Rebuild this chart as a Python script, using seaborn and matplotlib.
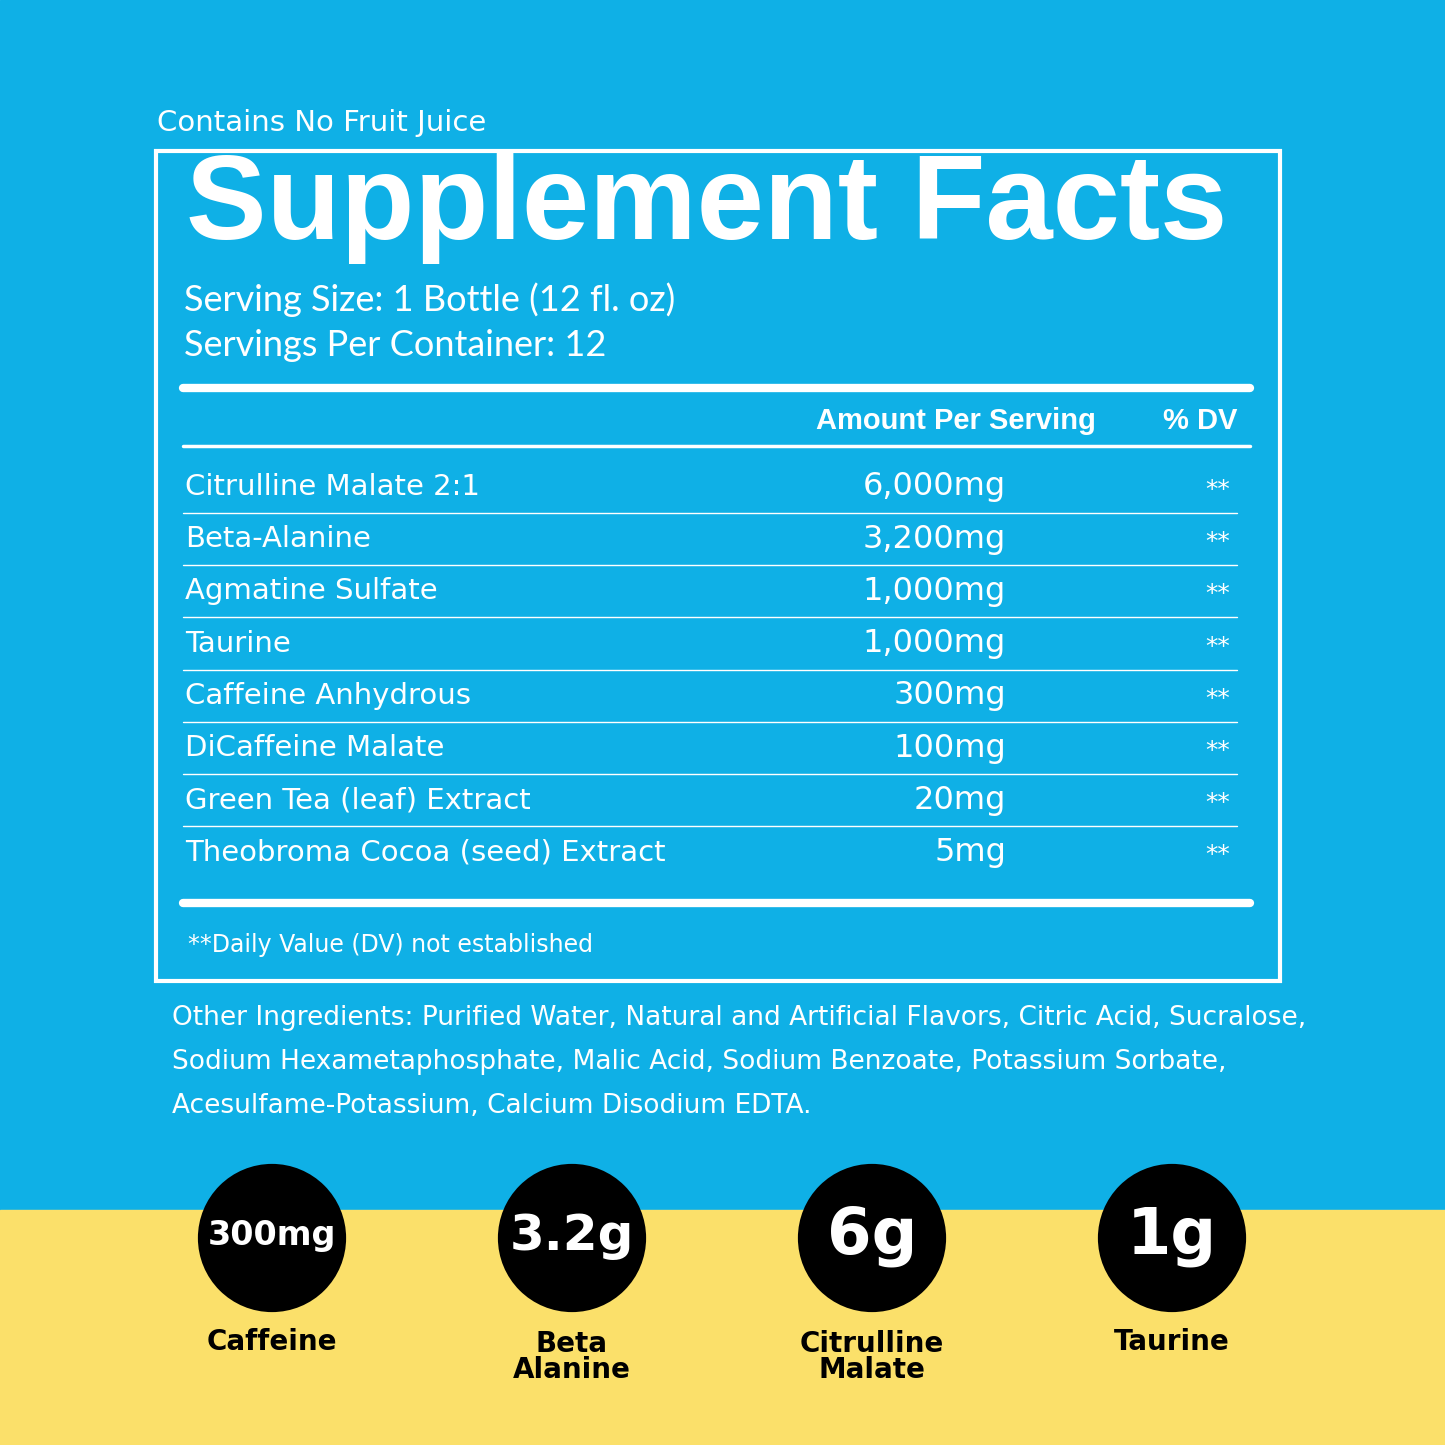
import matplotlib
matplotlib.use("Agg")
import matplotlib.pyplot as plt
import seaborn as sns
import pandas as pd

sns.set_theme(style="white")
plt.rcParams['font.family'] = ['Liberation Sans Narrow', 'DejaVu Sans']

ingredients = ["Citrulline Malate 2:1", "Beta-Alanine", "Agmatine Sulfate", "Taurine",
               "Caffeine Anhydrous", "DiCaffeine Malate", "Green Tea (leaf) Extract",
               "Theobroma Cocoa (seed) Extract"]
amounts = ["6,000mg", "3,200mg", "1,000mg", "1,000mg", "300mg", "100mg", "20mg", "5mg"]
dv = ["**"] * 8
other = ["Other Ingredients: Purified Water, Natural and Artificial Flavors, Citric Acid, Sucralose,",
         "Sodium Hexametaphosphate, Malic Acid, Sodium Benzoate, Potassium Sorbate,",
         "Acesulfame-Potassium, Calcium Disodium EDTA."]
badge_values = ["300mg", "3.2g", "6g", "1g"]
badge_labels = ["Caffeine", "Beta\nAlanine", "Citrulline\nMalate", "Taurine"]

BLUE = "#0FB0E6"
YEL = "#FBE06A"
W = "white"

fig = plt.figure(figsize=(14.45, 14.45), dpi=100)
ax = fig.add_axes([0, 0, 1, 1])
ax.set_xlim(0, 1445); ax.set_ylim(1445, 0); ax.axis("off")
ax.add_patch(plt.Rectangle((0, 0), 1445, 1210, color=BLUE, zorder=0))
ax.add_patch(plt.Rectangle((0, 1210), 1445, 235, color=YEL, zorder=0))
ax.add_patch(plt.Rectangle((156, 151), 1124, 830, fill=False, ec=W, lw=3, zorder=1))

ax.text(157, 123, "Contains No Fruit Juice", color=W, fontsize=21, va="center")
ax.text(186, 207, "Supplement Facts", color=W, fontsize=87, fontweight="bold",
        family=["Liberation Sans", "DejaVu Sans"], va="center")
ax.text(184, 300, "Serving Size: 1 Bottle (12 fl. oz)", color=W, fontsize=26,
        family=["Lato", "DejaVu Sans"], va="center")
ax.text(184, 345, "Servings Per Container: 12", color=W, fontsize=26,
        family=["Lato", "DejaVu Sans"], va="center")
ax.plot([183, 1250], [388, 388], color=W, lw=6)
ax.text(1096, 421, "Amount Per Serving", color=W, fontsize=21, fontweight="bold",
        family=["Liberation Sans", "DejaVu Sans"], ha="right", va="center")
ax.text(1237, 421, "% DV", color=W, fontsize=21, fontweight="bold",
        family=["Liberation Sans", "DejaVu Sans"], ha="right", va="center")
ax.plot([183, 1250], [446, 446], color=W, lw=2.5)

for i, (n, a, d) in enumerate(zip(ingredients, amounts, dv)):
    y = 487 + 52.2 * i
    ax.text(185, y, n, color=W, fontsize=21, va="center")
    ax.text(1006, y, a, color=W, fontsize=23, va="center", ha="right")
    ax.text(1230, y + 3, d, color=W, fontsize=18, va="center", ha="right")
    if i < len(ingredients) - 1:
        ax.plot([183, 1237], [y + 26, y + 26], color=W, lw=1)
ax.plot([183, 1250], [903, 903], color=W, lw=6)
ax.text(188, 945, "**Daily Value (DV) not established", color=W, fontsize=17, va="center")
for i, line in enumerate(other):
    ax.text(172, 1018 + 44 * i, line, color=W, fontsize=19, va="center")

df = pd.DataFrame({"x": [272 + 300 * i for i in range(4)], "y": [1238] * 4})
sns.scatterplot(data=df, x="x", y="y", s=148 ** 2 * 0.52, color="black", ax=ax,
                edgecolor="none", legend=False, zorder=3)
ax.set_xlim(0, 1445); ax.set_ylim(1445, 0); ax.axis("off")
for i, (v, l) in enumerate(zip(badge_values, badge_labels)):
    x = 272 + 300 * i
    fs = 24 if len(v) > 4 else (36 if len(v) > 2 else 46)
    ax.text(x, 1236, v, color=W, fontsize=fs, fontweight="bold",
            family=["DejaVu Sans"], ha="center", va="center", zorder=4)
    ax.text(x, 1342 if "\n" not in l else 1357, l, color="black", fontsize=20, fontweight="bold",
            family=["DejaVu Sans"], ha="center", va="center", linespacing=0.95)

fig.savefig("out.png", dpi=100)
